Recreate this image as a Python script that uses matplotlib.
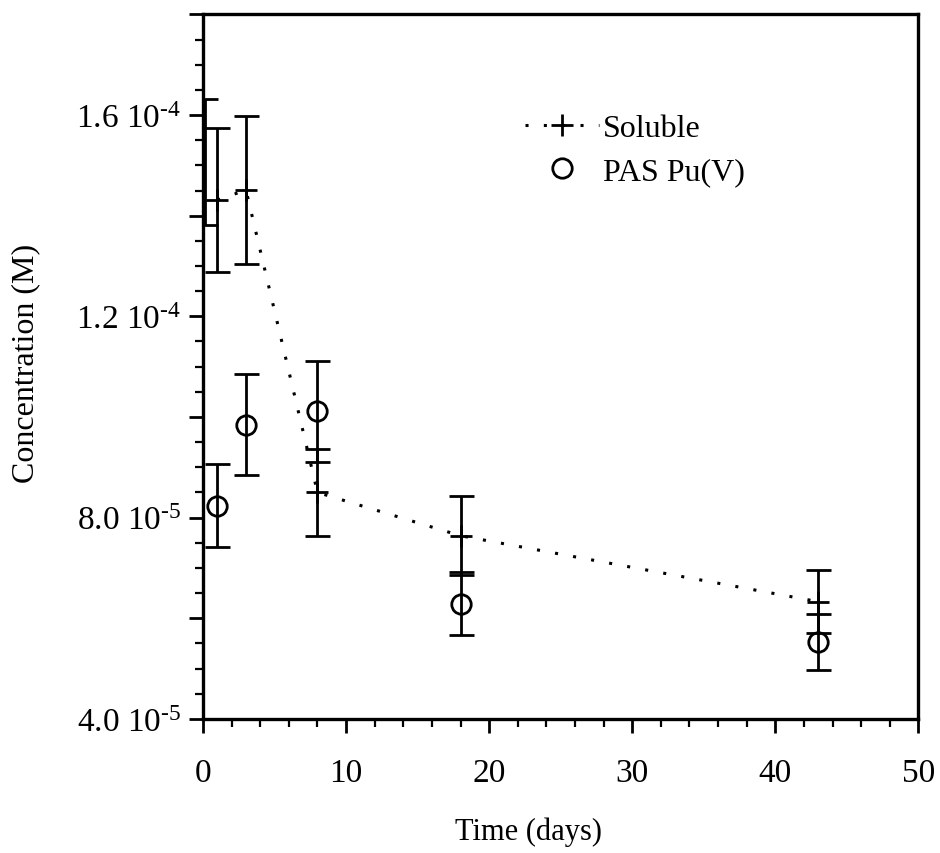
import matplotlib
matplotlib.use("Agg")
import matplotlib.pyplot as plt
from matplotlib.ticker import MultipleLocator, FuncFormatter
from matplotlib.lines import Line2D

plt.rcParams["font.family"] = ["Liberation Serif", "DejaVu Serif"]
plt.rcParams["mathtext.fontset"] = "custom"
plt.rcParams["mathtext.rm"] = "Liberation Serif"
plt.rcParams["mathtext.it"] = "Liberation Serif:italic"

# Soluble plutonium concentration
sol_days = [1, 3, 8, 18, 43]
sol_conc = [1.431e-4, 1.451e-4, 8.50e-5, 7.64e-5, 6.33e-5]
sol_err = [1.43e-5, 1.47e-5, 0.86e-5, 0.78e-5, 0.63e-5]

# Duplicate early soluble measurement (error bar only)
dup_days = [0.15]
dup_conc = [1.506e-4]
dup_err = [1.25e-5]

# PAS Pu(V) concentration
pas_days = [1, 3, 8, 18, 43]
pas_conc = [8.24e-5, 9.85e-5, 1.011e-4, 6.29e-5, 5.53e-5]
pas_err = [0.82e-5, 1.0e-5, 1.0e-5, 0.62e-5, 0.55e-5]

DOTS = (0, (1, 5))

fig = plt.figure(figsize=(9.4, 8.54), dpi=100)
ax = fig.add_axes([0.216, 0.157, 0.761, 0.825])

ax.errorbar(sol_days, sol_conc, yerr=sol_err, fmt="+", color="black",
            markersize=16, markeredgewidth=2.0, elinewidth=2.0,
            capsize=9, capthick=2.0, zorder=3)
ax.plot(sol_days, sol_conc, linestyle=DOTS, color="black",
        linewidth=2.2, zorder=2)
ax.errorbar(dup_days, dup_conc, yerr=dup_err, fmt="none", ecolor="black",
            elinewidth=2.0, capsize=9, capthick=2.0, zorder=3)
ax.errorbar(pas_days, pas_conc, yerr=pas_err, fmt="o", color="black",
            markerfacecolor="none", markersize=14, markeredgewidth=2.0,
            elinewidth=2.0, capsize=9, capthick=2.0, zorder=3)

ax.set_xlim(0, 50)
ax.set_ylim(4.0e-5, 1.8e-4)

ax.xaxis.set_major_locator(MultipleLocator(10))
ax.xaxis.set_minor_locator(MultipleLocator(2))
ax.yaxis.set_major_locator(MultipleLocator(2e-5))
ax.yaxis.set_minor_locator(MultipleLocator(5e-6))


def conc_label(v, pos):
    n = round(v / 1e-5)
    if n % 4 != 0:
        return ""
    exp = -5 if v < 1e-4 else -4
    mant = v / 10.0 ** exp
    return f"{mant:.1f} 10$^{{\\text{{{exp}}}}}$"


ax.yaxis.set_major_formatter(FuncFormatter(conc_label))

ax.tick_params(axis="both", which="major", direction="out", length=10,
               width=2.0, labelsize=24, pad=6)
ax.tick_params(axis="both", which="minor", direction="out", length=6,
               width=1.6)
ax.tick_params(axis="x", pad=18)
for side in ["left", "right", "top", "bottom"]:
    ax.spines[side].set_linewidth(2.4)

ax.set_xlabel("Time (days)", fontsize=22)
ax.set_ylabel("Concentration (M)", fontsize=23)
ax.xaxis.set_label_coords(0.455, -0.138)
ax.yaxis.set_label_coords(-0.228, 0.506)

handles = [
    Line2D([], [], linestyle=DOTS, linewidth=2.2, color="black",
           marker="+", markersize=16, markeredgewidth=2.0),
    Line2D([], [], linestyle="none", color="black", marker="o",
           markerfacecolor="none", markersize=14, markeredgewidth=2.0),
]
ax.legend(handles, ["Soluble", "PAS Pu(V)"], loc="upper left",
          bbox_to_anchor=(0.41, 0.90), frameon=False, fontsize=23,
          handlelength=2.3, handletextpad=0.15, labelspacing=0.45,
          numpoints=1)

fig.savefig("out.png", dpi=100)
